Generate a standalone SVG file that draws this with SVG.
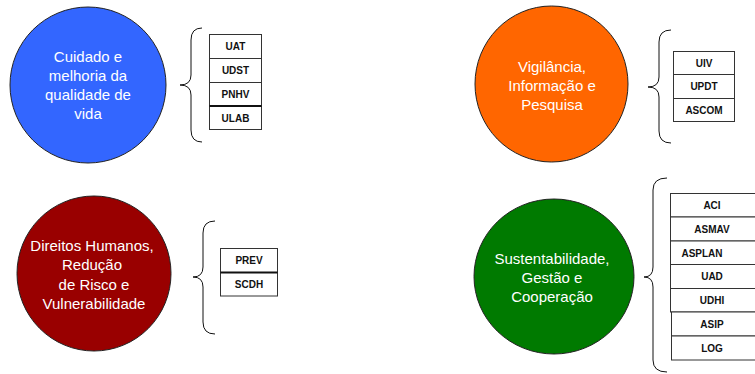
<svg xmlns="http://www.w3.org/2000/svg" width="755" height="374" viewBox="0 0 755 374">
<style>
.c{stroke:#222;stroke-width:1}
.ct{font-family:"Liberation Sans",Arial,sans-serif;font-size:15px;fill:#fff;text-anchor:middle}
.b{fill:#fff;stroke:#333;stroke-width:1}
.bt{font-family:"Liberation Sans",Arial,sans-serif;font-size:10px;font-weight:bold;fill:#111;text-anchor:middle}
.br{fill:none;stroke:#111;stroke-width:1}
.thick{stroke:#111;stroke-width:2}
</style>
<rect width="755" height="374" fill="#fff"/>
<g id="connectors">
<path class="br" d="M202,28 Q191,28 191,40 L191,75 Q191,85 180,85 Q191,85 191,95 L191,130 Q191,142 202,142"/>
<path class="br" d="M671,30 Q659,30 659,42 L659,77 Q659,87 648,87 Q659,87 659,97 L659,131 Q659,143 671,143"/>
<path class="br" d="M215,221 Q203,221 203,233 L203,267 Q203,277 193,277 Q203,277 203,287 L203,322 Q203,334 215,334"/>
<path class="br" d="M667,178 Q653,178 653,190 L653,267 Q653,277 644,277 Q653,277 653,287 L653,360 Q653,372 667,372"/>
</g>
<g id="node-cuidado">
<ellipse class="c" cx="88" cy="85" rx="78" ry="78" fill="#3366FF"/>
<text class="ct" x="88" y="62">Cuidado e</text>
<text class="ct" x="88" y="81">melhoria da</text>
<text class="ct" x="88" y="100">qualidade de</text>
<text class="ct" x="88" y="119">vida</text>
</g>
<g id="units-cuidado">
<rect class="b" x="209.5" y="34.5" width="52" height="24"/>
<rect class="b" x="209.5" y="58.5" width="52" height="24"/>
<rect class="b" x="209.5" y="82.5" width="52" height="24"/>
<rect class="b" x="209.5" y="106.5" width="52" height="23"/>
<line class="thick" x1="209.5" y1="106" x2="261.5" y2="106"/>
<text class="bt" x="235.5" y="50">UAT</text>
<text class="bt" x="235.5" y="74">UDST</text>
<text class="bt" x="235.5" y="98">PNHV</text>
<text class="bt" x="235.5" y="122">ULAB</text>
</g>
<g id="node-vigilancia">
<ellipse class="c" cx="551.5" cy="84" rx="76.5" ry="78" fill="#FF6600"/>
<text class="ct" x="552" y="72">Vigilância,</text>
<text class="ct" x="552" y="91">Informação e</text>
<text class="ct" x="552" y="110">Pesquisa</text>
</g>
<g id="units-vigilancia">
<rect class="b" x="673.5" y="51.5" width="61" height="23"/>
<rect class="b" x="673.5" y="74.5" width="61" height="24"/>
<rect class="b" x="673.5" y="98.5" width="61" height="23"/>
<text class="bt" x="704" y="67">UIV</text>
<text class="bt" x="704" y="90">UPDT</text>
<text class="bt" x="704" y="114">ASCOM</text>
</g>
<g id="node-direitos">
<ellipse class="c" cx="94" cy="273.5" rx="77" ry="77.5" fill="#990000"/>
<text class="ct" x="92" y="251">Direitos Humanos,</text>
<text class="ct" x="92" y="270">Redução</text>
<text class="ct" x="94" y="290">de Risco e</text>
<text class="ct" x="94" y="309">Vulnerabilidade</text>
</g>
<g id="units-direitos">
<rect class="b" x="220.5" y="248.5" width="57" height="24"/>
<rect class="b" x="220.5" y="272.5" width="57" height="23.5"/>
<line class="thick" x1="220.5" y1="272.5" x2="277.5" y2="272.5"/>
<text class="bt" x="249" y="264">PREV</text>
<text class="bt" x="249" y="288">SCDH</text>
</g>
<g id="node-sustentabilidade">
<ellipse class="c" cx="554" cy="276.5" rx="80" ry="77.5" fill="#007A00"/>
<text class="ct" x="552" y="264">Sustentabilidade,</text>
<text class="ct" x="552" y="283">Gestão e</text>
<text class="ct" x="552" y="302">Cooperação</text>
</g>
<g id="units-sustentabilidade">
<rect class="b" x="670.5" y="193.5" width="100" height="23.5"/>
<rect class="b" x="670.5" y="217" width="100" height="24"/>
<rect class="b" x="670.5" y="241" width="100" height="23.5"/>
<rect class="b" x="670.5" y="264.5" width="100" height="24"/>
<rect class="b" x="670.5" y="288.5" width="100" height="23.5"/>
<rect class="b" x="671.5" y="312" width="100" height="24" stroke="#666"/>
<rect class="b" x="671.5" y="336" width="100" height="24" stroke="#666"/>
<text class="bt" x="712" y="209">ACI</text>
<text class="bt" x="712" y="233">ASMAV</text>
<text class="bt" x="702" y="257">ASPLAN</text>
<text class="bt" x="712" y="280">UAD</text>
<text class="bt" x="712" y="304">UDHI</text>
<text class="bt" x="712" y="328">ASIP</text>
<text class="bt" x="712" y="352">LOG</text>
</g>
</svg>
